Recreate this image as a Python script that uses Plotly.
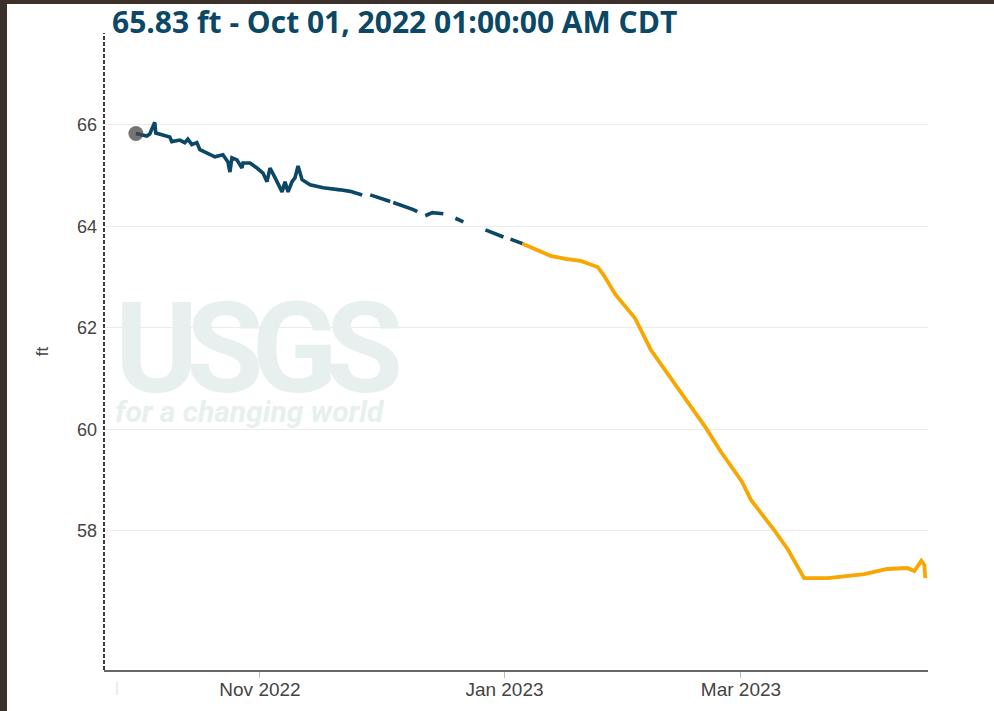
import plotly.graph_objects as go

# Approved data (dark blue), None marks gaps
approved_dates = [
    "2022-10-01 01:00", "2022-10-03 18:00", "2022-10-04 12:00", "2022-10-05 18:00", "2022-10-06 00:00",
    "2022-10-07 12:00", "2022-10-09 12:00", "2022-10-10 00:00", "2022-10-12 00:00", "2022-10-13 06:00",
    "2022-10-14 00:00", "2022-10-15 00:00", "2022-10-16 06:00", "2022-10-17 00:00", "2022-10-18 18:00",
    "2022-10-20 18:00", "2022-10-22 18:00", "2022-10-24 00:00", "2022-10-24 12:00", "2022-10-25 00:00",
    "2022-10-26 06:00", "2022-10-27 12:00", "2022-10-27 18:00", "2022-10-29 12:00", "2022-10-31 06:00",
    "2022-11-01 18:00", "2022-11-02 18:00", "2022-11-03 12:00", "2022-11-04 18:00", "2022-11-06 12:00",
    "2022-11-07 06:00", "2022-11-08 00:00", "2022-11-09 00:00", "2022-11-09 18:00", "2022-11-10 12:00",
    "2022-11-11 12:00", "2022-11-13 12:00", "2022-11-16 18:00", "2022-11-21 00:00", "2022-11-23 12:00",
    "2022-11-26 12:00", "2022-11-27 06:00",
    "2022-11-28 12:00", "2022-12-01 00:00", "2022-12-03 12:00", "2022-12-03 21:00",
    "2022-12-04 06:00", "2022-12-08 12:00", "2022-12-09 06:00", "2022-12-10 06:00", "2022-12-11 06:00",
    "2022-12-12 06:00", "2022-12-14 00:00", "2022-12-16 18:00", "2022-12-18 06:00",
    "2022-12-19 18:00", "2022-12-21 18:00", "2022-12-24 12:00",
    "2022-12-27 06:00", "2022-12-31 18:00", "2023-01-01 12:00",
    "2023-01-02 12:00", "2023-01-05 12:00",
]
approved_values = [
    65.83, 65.78, 65.82, 66.05, 65.84,
    65.80, 65.76, 65.67, 65.70, 65.65,
    65.72, 65.61, 65.65, 65.51, 65.45,
    65.37, 65.41, 65.27, 65.07, 65.35,
    65.31, 65.15, 65.25, 65.25, 65.15,
    65.05, 64.88, 65.15, 64.96, 64.68,
    64.88, 64.68, 64.88, 64.96, 65.19,
    64.92, 64.82, 64.76, 64.72, 64.69,
    64.62, None,
    64.62, 64.56, 64.49, None,
    64.47, 64.36, 64.33, 64.29, None,
    64.21, 64.27, 64.25, None,
    64.16, 64.09, None,
    63.93, 63.79, None,
    63.75, 63.66,
]

# Provisional data (orange)
provisional_dates = [
    "2023-01-05 12:00", "2023-01-12 12:00", "2023-01-16 06:00", "2023-01-20 00:00", "2023-01-24 06:00",
    "2023-01-25 18:00", "2023-01-28 18:00", "2023-02-02 12:00", "2023-02-06 12:00", "2023-02-14 00:00",
    "2023-02-20 06:00", "2023-02-24 00:00", "2023-03-01 06:00", "2023-03-03 12:00", "2023-03-09 06:00",
    "2023-03-12 18:00", "2023-03-16 18:00", "2023-03-22 18:00", "2023-03-31 18:00", "2023-04-06 12:00",
    "2023-04-11 12:00", "2023-04-13 06:00", "2023-04-15 00:00", "2023-04-15 18:00", "2023-04-16 00:00",
]
provisional_values = [
    63.66, 63.42, 63.36, 63.32, 63.20,
    63.04, 62.65, 62.20, 61.57, 60.74,
    60.03, 59.56, 58.97, 58.61, 58.02,
    57.63, 57.07, 57.07, 57.15, 57.25,
    57.27, 57.21, 57.41, 57.33, 57.07,
]

title_text = "65.83 ft - Oct 01, 2022 01:00:00 AM CDT"
ytick_vals = [58, 60, 62, 64, 66]
xtick_vals = ["2022-11-01", "2023-01-01", "2023-03-01"]
xtick_text = ["Nov 2022", "Jan 2023", "Mar 2023"]
watermark_main = "USGS"
watermark_sub = "for a changing world"

PW, PH = 824, 637  # plot area size in px

fig = go.Figure()
fig.add_trace(go.Scatter(
    x=approved_dates, y=approved_values, mode="lines",
    line=dict(color="#0b4866", width=3.6), connectgaps=False, hoverinfo="skip",
))
fig.add_trace(go.Scatter(
    x=provisional_dates, y=provisional_values, mode="lines",
    line=dict(color="#f8a600", width=3.8), hoverinfo="skip",
))
fig.add_trace(go.Scatter(
    x=[approved_dates[0]], y=[approved_values[0]], mode="markers",
    marker=dict(color="rgba(70,70,70,0.75)", size=15, line=dict(width=0)),
    hoverinfo="skip",
))

wm_text = (
    "<span style='font-size:126px;letter-spacing:-12px'><b>" + watermark_main + "</b></span><br>"
    "<span style='font-size:30px'><b><i>" + watermark_sub + "</i></b></span>"
)

fig.update_layout(
    width=994, height=711,
    margin=dict(l=104, r=66, t=33, b=41, autoexpand=False),
    paper_bgcolor="white", plot_bgcolor="white",
    showlegend=False,
    title=dict(
        text=title_text, x=112 / 994, xanchor="left", xref="container",
        y=1 - 22 / 711, yanchor="middle", yref="container",
        font=dict(family="Open Sans", size=30, color="#0b4866", weight="bold"),
    ),
    font=dict(family="Liberation Sans, Arial", size=14, color="#444"),
    xaxis=dict(
        type="date", automargin=False,
        range=["2022-09-23 02:00", "2023-04-16 16:00"],
        tickvals=xtick_vals, ticktext=xtick_text,
        showgrid=False, zeroline=False,
        showline=True, linecolor="#666", linewidth=2,
        ticks="outside", ticklen=6, tickcolor="#bbb", tickwidth=1,
        ticklabelstandoff=-5,
        tickfont=dict(size=19, color="#444"),
    ),
    yaxis=dict(
        range=[55.26, 67.81], automargin=False,
        tickvals=ytick_vals,
        showgrid=True, gridcolor="#ebebeb", gridwidth=1,
        zeroline=False, showline=False, ticks="",
        ticklabelstandoff=6,
        tickfont=dict(size=18, color="#444"),
        title=dict(text="ft", standoff=24, font=dict(size=17, color="#444")),
    ),
    annotations=[
        dict(text=wm_text, xref="paper", yref="paper",
             x=(113 - 104) / PW, y=(670 - 352) / PH,
             xanchor="left", yanchor="middle", align="left", showarrow=False,
             font=dict(family="Roboto", size=23, color="#e7f0ee")),
    ],
    shapes=[
        dict(type="line", xref="paper", yref="paper", x0=0, x1=0, y0=0, y1=1,
             line=dict(color="#3a3a3a", width=2, dash="4px,2px"), layer="above"),
        dict(type="line", xref="paper", yref="paper", x0=(117 - 104) / PW, x1=(117 - 104) / PW,
             y0=-12 / PH, y1=-25 / PH, line=dict(color="#f3d3b8", width=1)),
        dict(type="rect", xref="paper", yref="paper", x0=-104 / PW, x1=-97 / PW,
             y0=-41 / PH, y1=(PH + 33) / PH, fillcolor="#3b312a", line=dict(width=0)),
        dict(type="rect", xref="paper", yref="paper", x0=-104 / PW, x1=(PW + 66) / PW,
             y0=(PH + 29) / PH, y1=(PH + 33) / PH, fillcolor="#3b312a", line=dict(width=0)),
    ],
)
fig.write_html(
    "out.html",
    config={"displayModeBar": False},
    post_script="document.body.style.margin='0';document.body.style.overflow='hidden';",
)
